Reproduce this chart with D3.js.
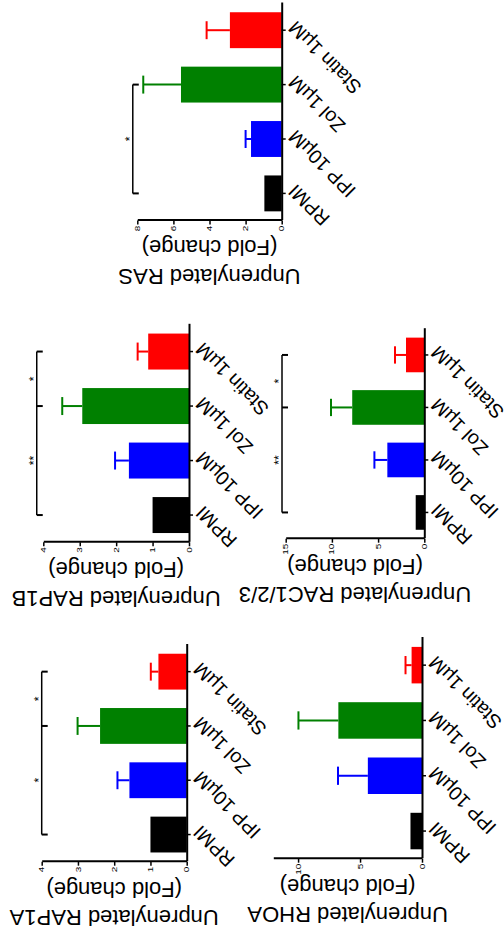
<html lang="en">
<head>
<meta charset="utf-8">
<title>Unprenylated GTPases</title>
<style>
    body { margin: 0; background: #fff; }
    svg { display: block; }
    svg text { font-family: "Liberation Sans", Arial, sans-serif; }
</style>
<script src="https://d3js.org/d3.v7.min.js"></script>
</head>
<body>
<div id="chart"></div>
<script>
// data
var categories = ["RPMI", "IPP 10\u00b5M", "Zol 1\u00b5M", "Statin 1\u00b5M"];
var barColors = ["#000000", "#0000ff", "#008000", "#ff0000"];

var rap1aMean = [1.0, 1.58, 2.39, 0.78];
var rap1aSd   = [0, 0.33, 0.62, 0.21];
var rap1bMean = [1.0, 1.65, 2.93, 1.12];
var rap1bSd   = [0, 0.38, 0.55, 0.29];
var rhoaMean  = [0.93, 4.37, 6.75, 0.84];
var rhoaSd    = [0, 2.41, 3.22, 0.49];
var racMean   = [0.93, 4.0, 7.8, 1.98];
var racSd     = [0, 1.4, 2.3, 1.19];
var rasMean   = [0.96, 1.70, 5.58, 2.87];
var rasSd     = [0, 0.30, 2.09, 1.29];

var rap1aTicks = [0, 1, 2, 3, 4];
var rap1bTicks = [0, 1, 2, 3, 4];
var rhoaTicks  = [0, 5, 10];
var racTicks   = [0, 5, 10, 15];
var rasTicks   = [0, 2, 4, 6, 8];

// significance brackets: [from index, to index, label]
var rap1aSig = [[0, 2, "*"], [2, 3, "*"]];
var rap1bSig = [[0, 2, "**"], [2, 3, "*"]];
var racSig   = [[0, 2, "**"], [2, 3, "*"]];
var rasSig   = [[0, 2, "*"]];

// figure is drawn upright (943 x 504) then turned a quarter turn
var W = 504, H = 943;
var FONT = "Liberation Sans, Arial, sans-serif";
var svg = d3.select("#chart").append("svg").attr("width", W).attr("height", H);
var root = svg.append("g").attr("transform", "translate(0," + H + ") rotate(-90)");

var panels = [
    {name: "RAP1A", mean: rap1aMean, sd: rap1aSd, ticks: rap1aTicks, max: 4, sig: rap1aSig, sigLevel: 4.0,
     xs: 81.3, step: 54.3, yb: 186.7, yt: 41.7},
    {name: "RAP1B", mean: rap1bMean, sd: rap1bSd, ticks: rap1bTicks, max: 4, sig: rap1bSig, sigLevel: 4.18,
     xs: 400.7, step: 54.5, yb: 189, yt: 43.3},
    {name: "RHOA", mean: rhoaMean, sd: rhoaSd, ticks: rhoaTicks, max: 12, sig: [], sigLevel: 12,
     xs: 84.3, step: 55.3, yb: 422, yt: 273.3},
    {name: "RAC1/2/3", mean: racMean, sd: racSd, ticks: racTicks, max: 15, sig: racSig, sigLevel: 15.4,
     xs: 404.3, step: 52.5, yb: 424.3, yt: 285.7},
    {name: "RAS", mean: rasMean, sd: rasSd, ticks: rasTicks, max: 8, sig: rasSig, sigLevel: 8.25,
     xs: 722.4, step: 54.4, yb: 281.7, yt: 137.3}
];

panels.forEach(function(p) {
    var g = root.append("g");
    var x = d3.scaleBand()
        .domain(categories)
        .range([p.xs, p.xs + categories.length * p.step])
        .paddingInner(0.34)
        .paddingOuter(0.17);
    var y = d3.scaleLinear().domain([0, p.max]).range([p.yb, p.yt]);
    var bw = x.bandwidth();

    // bars
    g.selectAll(".bar")
        .data(categories)
        .enter()
        .append("rect")
        .attr("x", d => x(d))
        .attr("y", (d, i) => y(p.mean[i]))
        .attr("width", bw)
        .attr("height", (d, i) => p.yb - y(p.mean[i]))
        .attr("fill", (d, i) => barColors[i]);

    // error bars (upper half only)
    categories.forEach(function(c, i) {
        if (!p.sd[i]) return;
        var cx = x(c) + bw / 2;
        var top = y(p.mean[i] + p.sd[i]);
        g.append("line")
            .attr("x1", cx).attr("x2", cx)
            .attr("y1", y(p.mean[i])).attr("y2", top)
            .attr("stroke", barColors[i]).attr("stroke-width", 2);
        g.append("line")
            .attr("x1", cx - bw / 4).attr("x2", cx + bw / 4)
            .attr("y1", top).attr("y2", top)
            .attr("stroke", barColors[i]).attr("stroke-width", 2);
    });

    // value axis
    var ya = g.append("g")
        .attr("transform", "translate(" + p.xs + ",0)")
        .call(d3.axisLeft(y).tickValues(p.ticks).tickFormat(d3.format("d")).tickSize(4).tickSizeOuter(0));
    ya.select(".domain").attr("stroke-width", 2);
    ya.selectAll(".tick line").attr("stroke-width", 1.5);
    ya.selectAll(".tick text")
        .attr("font-size", 10)
        .attr("font-family", FONT)
        .attr("x", -5)
        .attr("transform", "scale(1,0.65)");

    // category axis
    var xa = g.append("g")
        .attr("transform", "translate(0," + p.yb + ")")
        .call(d3.axisBottom(x).tickSize(4).tickSizeOuter(0).tickFormat(""));
    xa.select(".domain").attr("stroke-width", 2);
    xa.selectAll(".tick line").attr("stroke-width", 1.5);

    g.selectAll(".cat")
        .data(categories)
        .enter()
        .append("text")
        .attr("transform", d => "translate(" + (x(d) + bw / 2 + 5.5) + "," + (p.yb + 10) + ") rotate(-45)")
        .attr("text-anchor", "end")
        .attr("dy", "0.35em")
        .attr("font-family", FONT)
        .attr("font-size", 19.5)
        .text(d => d);

    // axis titles
    var midY = (p.yb + p.yt) / 2;
    g.append("text")
        .attr("transform", "translate(" + (p.xs - 26.5) + "," + midY + ") rotate(-90)")
        .attr("text-anchor", "middle")
        .attr("dy", "0.3em")
        .attr("font-family", FONT)
        .attr("font-size", 22)
        .text("(Fold change)");
    g.append("text")
        .attr("transform", "translate(" + (p.xs - 55) + "," + midY + ") rotate(-90)")
        .attr("text-anchor", "middle")
        .attr("dy", "0.3em")
        .attr("font-family", FONT)
        .attr("font-size", 22)
        .text("Unprenylated " + p.name);

    // significance brackets
    if (p.sig.length) {
        var ly = y(p.sigLevel);
        var first = d3.min(p.sig, s => s[0]), last = d3.max(p.sig, s => s[1]);
        g.append("line")
            .attr("x1", x(categories[first]) + bw / 2).attr("x2", x(categories[last]) + bw / 2)
            .attr("y1", ly).attr("y2", ly)
            .attr("stroke", "#000").attr("stroke-width", 1.5);
        var marks = [];
        p.sig.forEach(function(s) { marks.push(s[0]); marks.push(s[1]); });
        marks.filter((m, i, a) => a.indexOf(m) === i).forEach(function(m) {
            var cx = x(categories[m]) + bw / 2;
            g.append("line")
                .attr("x1", cx).attr("x2", cx)
                .attr("y1", ly).attr("y2", ly + 6)
                .attr("stroke", "#000").attr("stroke-width", 2);
        });
        p.sig.forEach(function(s) {
            var cx = (x(categories[s[0]]) + x(categories[s[1]])) / 2 + bw / 2;
            g.append("text")
                .attr("x", cx)
                .attr("y", ly + 1)
                .attr("text-anchor", "middle")
                .attr("font-family", FONT)
                .attr("font-size", 12)
                .text(s[2]);
        });
    }
});
</script>
</body>
</html>
